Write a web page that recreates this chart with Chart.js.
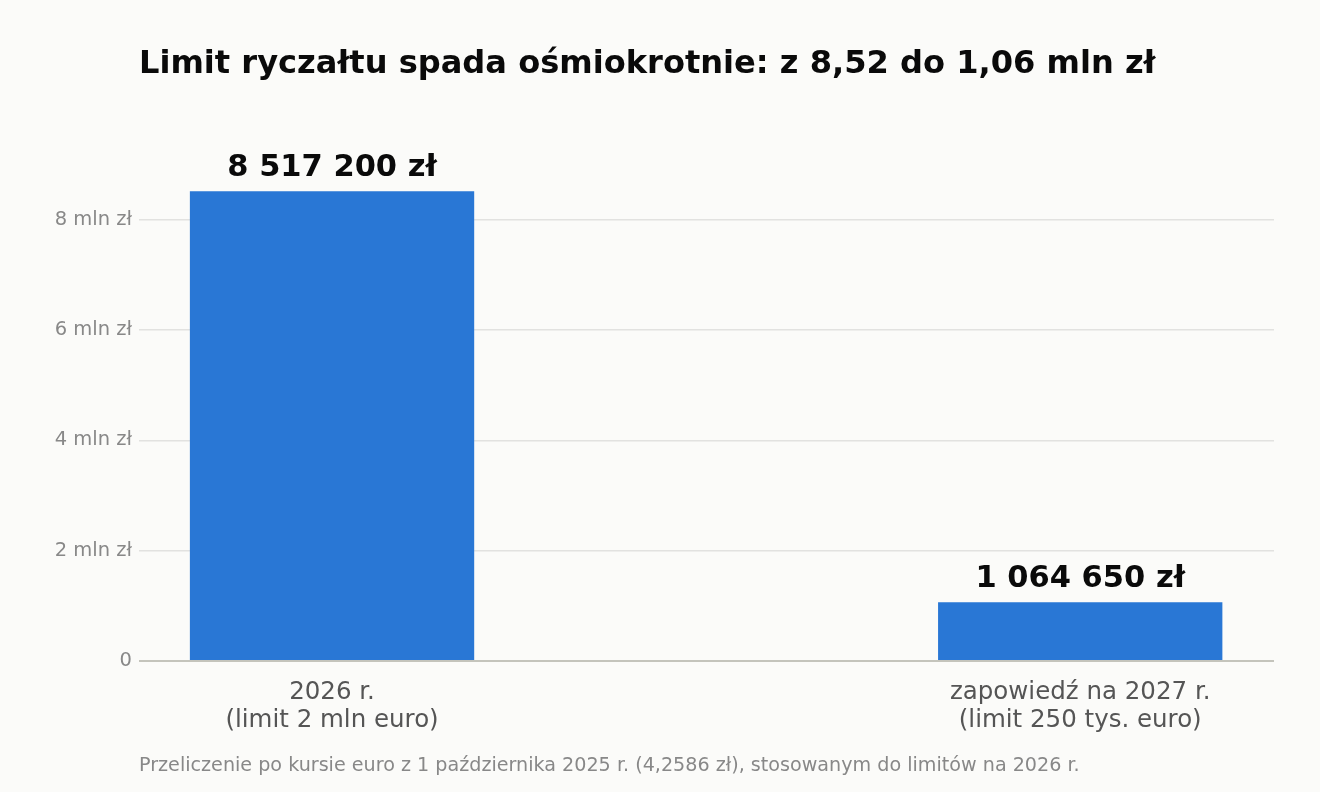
<!DOCTYPE html>
<html>
<head>
<meta charset="utf-8">
<script src="https://cdn.jsdelivr.net/npm/chart.js@4"></script>
<style>
html,body{margin:0;padding:0;background:#fbfbf9;}
#wrap{width:1320px;height:792px;position:relative;}
canvas{display:block;}
</style>
</head>
<body>
<div id="wrap"><canvas id="c" width="1320" height="792"></canvas></div>
<script>
const titleText = "Limit ryczałtu spada ośmiokrotnie: z 8,52 do 1,06 mln zł";
const footerText = "Przeliczenie po kursie euro z 1 października 2025 r. (4,2586 zł), stosowanym do limitów na 2026 r.";
const categories = [["2026 r.", "(limit 2 mln euro)"], ["zapowiedź na 2027 r.", "(limit 250 tys. euro)"]];
const values = [8517200, 1064650];
const valueLabels = ["8 517 200 zł", "1 064 650 zł"];
const yTickValues = [0, 2000000, 4000000, 6000000, 8000000];
const yTickLabels = ["0", "2 mln zł", "4 mln zł", "6 mln zł", "8 mln zł"];

const FONT = "'DejaVu Sans', sans-serif";

const textPlugin = {
  id: 'texts',
  afterDraw(chart) {
    const ctx = chart.ctx;
    const area = chart.chartArea;
    ctx.save();
    ctx.textBaseline = 'alphabetic';
    ctx.fillStyle = '#0a0a0a';
    ctx.font = "bold 32.1px " + FONT;
    ctx.textAlign = 'left';
    ctx.fillText(titleText, area.left, 73);
    ctx.fillStyle = '#888888';
    ctx.font = "19.15px " + FONT;
    ctx.fillText(footerText, area.left, 771);
    const meta = chart.getDatasetMeta(0);
    ctx.fillStyle = '#0a0a0a';
    ctx.font = "bold 30.5px " + FONT;
    ctx.textAlign = 'center';
    meta.data.forEach((bar, i) => {
      ctx.fillText(valueLabels[i], bar.x, bar.y - 15);
    });
    ctx.restore();
  }
};

const bgPlugin = {
  id: 'bg',
  beforeDraw(chart) {
    const ctx = chart.ctx;
    ctx.save();
    ctx.fillStyle = '#fbfbf9';
    ctx.fillRect(0, 0, chart.width, chart.height);
    ctx.restore();
  }
};

new Chart(document.getElementById('c'), {
  type: 'bar',
  data: {
    datasets: [{
      data: values.map((v, i) => ({x: i, y: v})),
      backgroundColor: '#2977d5',
      borderWidth: 0,
      barPercentage: 0.38,
      categoryPercentage: 1
    }]
  },
  options: {
    responsive: false,
    animation: false,
    devicePixelRatio: 1,
    layout: {padding: {top: 137, right: 46, bottom: 0, left: 0}},
    plugins: {legend: {display: false}, tooltip: {enabled: false}, title: {display: false}},
    scales: {
      x: {
        type: 'linear',
        offset: false,
        min: -0.258,
        max: 1.259,
        afterBuildTicks(scale) { scale.ticks = categories.map((c, i) => ({value: i})); },
        afterFit(scale) { scale.height = 131; },
        grid: {display: false, drawTicks: false, offset: false},
        border: {display: false},
        ticks: {
          padding: 18,
          color: '#555555',
          font: {family: FONT, size: 24.5, lineHeight: 1.14},
          maxRotation: 0,
          autoSkip: false,
          callback: (v) => categories[Math.round(v)]
        }
      },
      y: {
        min: 0,
        max: 9500000,
        afterBuildTicks(scale) { scale.ticks = yTickValues.map(v => ({value: v})); },
        afterFit(scale) { scale.width = 139; },
        grid: {
          drawTicks: false,
          color: (c) => c.tick && c.tick.value === 0 ? '#c4c4bc' : '#e2e2e0',
          lineWidth: (c) => c.tick && c.tick.value === 0 ? 2 : 1.5
        },
        border: {display: false},
        ticks: {
          padding: 7,
          color: '#888888',
          font: {family: FONT, size: 19.5},
          callback: (v) => { const i = yTickValues.indexOf(v); return i >= 0 ? yTickLabels[i] : null; }
        }
      }
    }
  },
  plugins: [bgPlugin, textPlugin]
});
</script>
</body>
</html>
